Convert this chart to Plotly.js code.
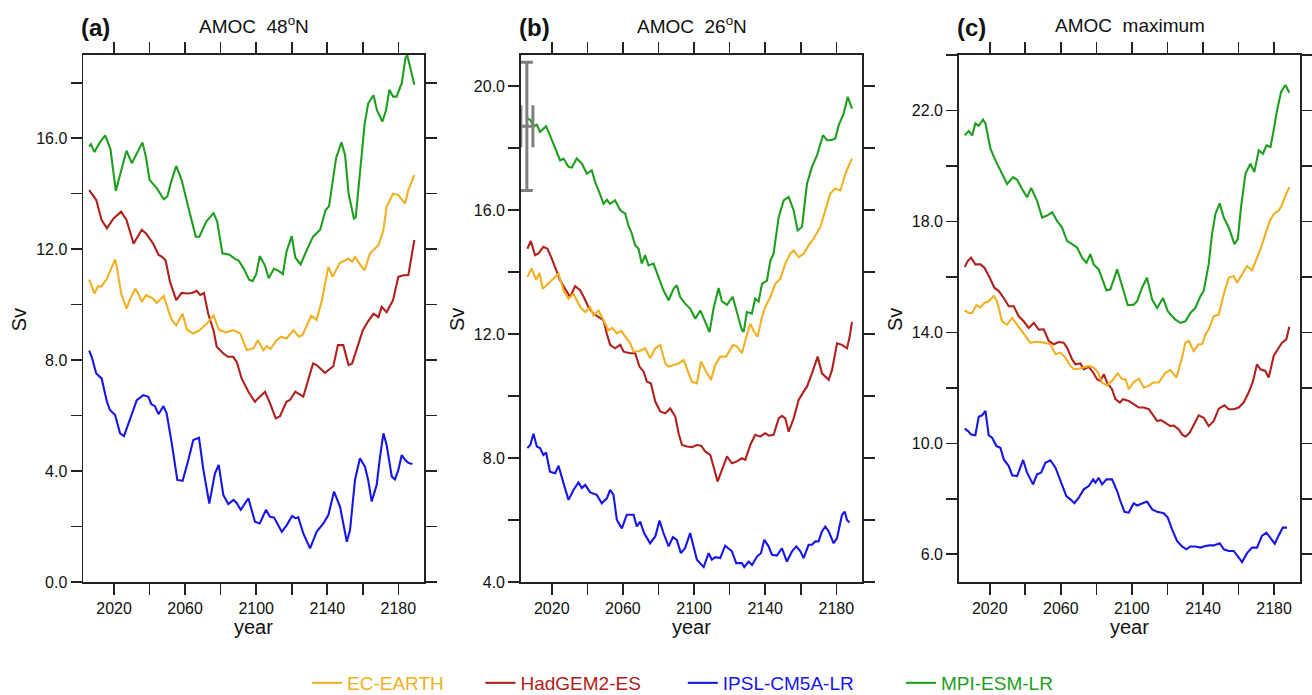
<!DOCTYPE html>
<html><head><meta charset="utf-8">
<script src="https://cdn.plot.ly/plotly-3.0.1.min.js"></script>
<style>html,body{margin:0;padding:0;background:#fff}#chart{width:1312px;height:695px}</style>
</head><body><div id="chart"></div>
<script>
// ---------------- DATA ----------------
const models = ['EC-EARTH','HadGEM2-ES','IPSL-CM5A-LR','MPI-ESM-LR'];
const panelTitles = ['AMOC\u00a0 48<sup>o</sup>N','AMOC\u00a0 26<sup>o</sup>N','AMOC\u00a0 maximum'];
const panelLetters = ['(a)','(b)','(c)'];
const xTickStart = 2020, xTickStep = 40, xMinorStep = 20;
const yTickStarts = [0, 4, 6];
const yTickStep = 4, yMinorStep = 2;

// observational estimate at 26N
const obsYear = [2006];
const obsSv = [18.7];
const obsSvErr = [2.07];
const obsYearErr = [3.4];

// Panel (a) AMOC 48N
const yrA_EC = [2006,2009,2011,2013,2016,2019,2020.6,2022,2024,2027,2029,2032,2034,2035.6,2038,2042,2044,2048,2051.5,2053,2055,2057,2058.6,2061,2064.6,2068,2072,2076,2079,2083,2087,2091,2094.7,2098.4,2101,2104,2106,2108,2111.5,2114,2117,2121,2124,2126,2128,2131,2134,2137,2140.6,2143,2147,2150,2152,2154,2155.6,2159.4,2161,2164,2168.8,2171.6,2173.4,2177,2180,2183.8,2185.6,2189];
const svA_EC = [10.90,10.40,10.66,10.66,10.94,11.4,11.63,11.2,10.4,9.86,10.2,10.58,10.35,10.1,10.34,10.22,10.06,10.31,9.61,9.4,9.25,9.5,9.67,9.1,8.96,9.07,9.3,9.61,9.1,9.0,9.08,8.96,8.36,8.42,8.72,8.36,8.5,8.4,8.72,8.84,8.78,9.08,8.84,8.9,9.2,9.6,9.45,10.16,11.36,11.0,11.5,11.6,11.66,11.55,11.72,11.36,11.24,11.84,12.14,12.69,13.53,14.0,13.95,13.65,14.13,14.67];
const yrA_Had = [2006,2007.5,2010,2013,2016,2019.6,2024,2027,2031,2035.6,2038,2042,2045,2047,2049,2051.5,2055,2058,2061,2064,2066.5,2068.5,2070.6,2073,2076,2077.8,2081.5,2084,2087,2089,2091.8,2095.6,2099.3,2101,2105,2107.8,2111,2113.4,2117,2119,2122,2126.5,2132,2134,2136,2138.7,2143.4,2146,2149,2152,2154,2157.5,2160,2163,2166,2168.8,2170.6,2173.4,2177,2180,2182.8,2185.6,2189];
const svA_Had = [14.13,14.0,13.77,13.05,12.75,13.1,13.35,13.05,12.2,12.7,12.57,12.2,11.8,11.72,11.6,10.82,10.16,10.42,10.4,10.42,10.5,10.35,10.42,9.67,9.07,8.48,8.24,8.12,8.12,7.94,7.34,6.86,6.5,6.62,6.86,6.44,5.9,5.98,6.5,6.56,6.86,6.68,7.88,7.82,7.7,7.54,7.78,8.54,8.54,7.82,7.88,8.6,9.08,9.4,9.67,9.55,9.92,9.73,10.16,11.0,11.06,11.06,12.33];
const yrA_IPSL = [2006,2007.4,2010,2013,2016,2017.7,2020.6,2023.4,2025.6,2029,2032.8,2036.5,2039.3,2041,2043,2045,2047.8,2049.6,2052.5,2055.6,2058.6,2061.8,2064.6,2067.8,2070.3,2073.6,2076.8,2078.9,2081.5,2084.3,2087.2,2089,2091.3,2095.6,2097.5,2099.3,2102,2105.5,2107.8,2110,2114.4,2117.2,2120.2,2122,2123.7,2126.5,2130.3,2134,2137.8,2140.6,2143.8,2147.2,2151,2152.8,2155.6,2158.4,2161.2,2163,2165,2167.8,2169.7,2171.6,2173.4,2176.3,2178.1,2180,2181.9,2183.8,2185.6,2187.9];
const svA_IPSL = [8.34,8.12,7.52,7.34,6.5,6.2,6.02,5.36,5.26,5.9,6.56,6.74,6.68,6.41,6.34,6.05,6.34,6.08,5.0,3.68,3.65,4.4,5.12,5.2,4.04,2.83,3.92,4.22,3.14,2.81,2.96,2.85,2.6,3.02,2.6,2.17,2.11,2.6,2.35,2.33,1.81,2.05,2.38,2.3,2.33,1.75,1.21,1.81,2.11,2.41,3.26,2.71,1.45,1.87,3.68,4.46,4.16,3.68,2.9,3.5,4.52,5.36,4.94,3.8,3.7,4.04,4.58,4.4,4.3,4.25];
const yrA_MPI = [2006,2007,2009,2012,2015,2018,2021,2024,2027,2030,2033,2036,2038,2040,2044,2048,2050,2052,2055,2058,2063,2066,2068,2072,2076,2078,2081,2085,2088,2090,2093,2096,2098,2100,2102,2105,2107,2110,2113,2115,2117,2120,2122,2125,2128,2132,2136,2139,2141,2143,2145,2148,2150,2152,2155,2156,2158,2161,2163,2166,2168,2171,2173,2175,2177,2179,2182,2184,2185,2187,2189];
const svA_MPI = [15.70,15.78,15.50,15.85,16.1,15.6,14.1,14.8,15.55,15.1,15.5,15.85,15.3,14.5,14.2,13.8,13.9,14.4,15.0,14.5,13.2,12.45,12.45,13.0,13.3,13.0,11.85,11.8,11.65,11.6,11.3,10.9,10.85,11.1,11.75,11.4,10.95,11.3,11.2,11.1,11.9,12.47,11.7,11.45,11.9,12.45,12.7,13.4,13.55,14.4,15.3,15.85,15.4,14.0,13.1,13.15,14.6,16.5,17.25,17.55,17.0,16.6,17.0,17.75,17.5,17.5,18.0,18.9,19.0,18.45,17.93];

// Panel (b) AMOC 26N
const yrB_EC = [2006.3,2008.7,2011.2,2013.1,2014.9,2018.1,2021.9,2023.8,2026.6,2029.4,2032.2,2036.0,2038.8,2041.6,2043.4,2046.3,2049.1,2051.9,2054.0,2056.6,2059.0,2061.3,2064.1,2066.0,2069.5,2072.5,2075.3,2078.2,2081.0,2083.8,2085.7,2088.5,2091.3,2094.1,2096.9,2098.8,2101.6,2103.9,2106.3,2109.5,2111.9,2114.7,2118.0,2121.9,2124.1,2126.9,2129.7,2131.6,2133.5,2135.7,2138.0,2140.0,2142.9,2145.7,2148.5,2151.3,2154.1,2156.0,2158.8,2161.6,2164.4,2167.3,2171.0,2173.8,2176.6,2179.4,2182.3,2185.1,2188.8];
const svB_EC = [13.84,14.11,13.75,13.97,13.46,13.62,13.84,13.95,13.41,13.14,13.3,12.87,12.71,12.87,12.6,12.76,12.44,12.12,12.2,12.02,12.1,11.91,11.7,11.43,11.45,11.54,11.22,11.54,11.65,11.05,10.95,11.0,11.05,11.16,10.73,10.46,10.41,11.11,10.84,10.52,11.0,11.27,11.27,11.65,11.6,11.38,11.97,12.33,12.1,11.91,12.5,12.87,13.19,13.62,13.78,14.27,14.59,14.7,14.48,14.59,14.86,15.08,15.45,15.99,16.53,16.69,16.63,17.17,17.66];
const yrB_Had = [2006.3,2008.2,2010.6,2012.5,2015.3,2017.6,2020.0,2022.8,2024.7,2027.5,2030.3,2033.1,2036.0,2037.9,2040.6,2043.4,2046.3,2049.1,2051.0,2052.8,2055.6,2058.5,2060.4,2064.1,2066.9,2069.3,2071.6,2073.5,2075.7,2078.2,2081.0,2083.8,2086.6,2089.4,2091.3,2093.2,2096.0,2098.8,2101.6,2104.0,2106.3,2109.1,2111.0,2113.2,2115.7,2118.5,2121.3,2124.1,2126.9,2128.8,2131.6,2134.4,2137.2,2140.0,2142.0,2144.7,2147.6,2149.4,2151.3,2153.2,2156.0,2158.8,2161.6,2163.5,2166.3,2169.5,2171.9,2175.7,2177.6,2180.4,2183.2,2186.0,2187.5,2188.8];
const svB_Had = [14.75,15.0,14.54,14.6,14.81,14.75,14.43,14.05,13.73,13.46,13.19,13.54,13.41,13.2,12.87,12.66,12.55,12.44,12.0,11.65,11.54,11.65,11.43,11.38,11.38,10.95,10.79,10.46,10.41,9.82,9.5,9.44,9.6,9.34,8.8,8.42,8.37,8.35,8.42,8.4,8.21,8.1,7.72,7.24,7.62,8.05,7.83,7.89,7.99,7.94,8.42,8.75,8.69,8.8,8.72,8.75,9.28,9.36,9.28,8.85,9.28,9.87,10.14,10.3,10.73,11.27,10.73,10.52,10.84,11.7,11.65,11.54,11.91,12.39];
const yrB_IPSL = [2006.3,2008.0,2009.7,2011.6,2013.4,2015.3,2016.8,2019.0,2021.9,2023.8,2026.6,2029.4,2032.2,2035.0,2036.9,2038.8,2041.6,2045.3,2048.1,2051.0,2052.8,2054.7,2056.6,2059.4,2062.2,2066.0,2067.8,2069.7,2071.9,2075.3,2078.2,2080.6,2082.8,2085.7,2088.1,2090.3,2092.6,2095.0,2097.8,2099.7,2101.6,2105.4,2108.2,2110.0,2112.0,2114.7,2117.5,2121.3,2123.7,2126.9,2128.2,2130.7,2132.6,2135.4,2137.6,2139.5,2141.9,2143.8,2146.6,2149.4,2152.2,2155.1,2157.5,2159.8,2161.6,2164.4,2166.3,2168.2,2170.0,2171.9,2173.8,2175.7,2178.5,2180.4,2183.2,2184.7,2186.0,2187.4];
const svB_IPSL = [8.32,8.43,8.78,8.37,8.32,8.1,8.18,7.56,7.51,7.75,7.19,6.65,6.97,7.21,7.03,7.13,6.89,6.81,6.54,6.7,6.97,6.81,6.0,5.73,6.17,6.17,5.79,5.95,5.58,5.25,5.47,5.98,5.58,5.15,5.45,5.36,4.93,5.1,5.58,5.15,4.72,4.48,4.93,4.72,4.8,4.77,5.17,4.99,4.61,4.61,4.48,4.66,4.55,4.82,4.93,5.36,5.15,4.88,4.85,5.09,4.66,4.99,5.15,4.99,4.77,5.2,5.2,5.31,5.31,5.63,5.79,5.63,5.25,5.42,6.17,6.27,6.0,5.92];
const yrB_MPI = [2006.3,2008.0,2009.7,2011.6,2013.4,2016.8,2019.0,2021.9,2024.7,2026.6,2029.4,2031.3,2034.0,2036.9,2039.7,2042.5,2044.4,2046.3,2049.1,2051.0,2052.8,2055.6,2058.5,2061.3,2063.1,2065.0,2066.9,2068.8,2070.6,2072.5,2074.4,2077.2,2080.0,2082.8,2085.7,2088.5,2090.3,2092.2,2095.0,2097.8,2100.7,2103.5,2106.3,2108.7,2111.0,2113.8,2115.7,2118.5,2121.7,2124.1,2126.9,2127.9,2129.7,2132.5,2134.4,2136.3,2138.2,2141.0,2142.9,2144.7,2147.6,2150.4,2153.2,2156.0,2158.2,2160.7,2163.5,2166.3,2169.1,2172.5,2174.8,2176.7,2179.4,2181.3,2184.1,2186.4,2188.8];
const svB_MPI = [18.95,18.9,18.7,18.75,18.52,18.7,18.41,17.98,17.6,17.66,17.39,17.37,17.66,17.5,17.17,17.28,16.9,16.63,16.2,16.33,16.2,16.31,15.99,15.88,15.5,15.24,14.86,14.75,14.27,14.54,14.21,14.27,13.84,13.41,13.09,13.46,13.57,13.19,12.98,12.82,12.49,12.76,12.39,12.06,12.84,13.48,13.05,12.94,13.2,12.71,12.12,12.07,12.71,12.66,13.14,13.05,13.62,13.72,14.37,14.59,15.77,16.31,16.42,15.99,15.34,15.45,16.85,17.39,17.76,18.41,18.25,18.25,18.3,18.73,19.11,19.65,19.27];

// Panel (c) AMOC maximum
const yrC_EC = [2005.9,2008.2,2010.1,2012.5,2014.8,2017.0,2019.4,2022.3,2024.1,2026.9,2029.8,2032.6,2035.4,2038.2,2040.0,2042.8,2046.6,2050.4,2054.1,2057.0,2059.8,2062.6,2065.4,2067.3,2070.1,2072.9,2075.7,2078.5,2081.0,2083.2,2086.0,2088.8,2092.0,2094.5,2096.4,2098.2,2101.0,2103.9,2106.7,2109.5,2111.9,2115.1,2118.9,2121.7,2125.1,2128.2,2130.1,2132.0,2134.8,2137.6,2139.5,2141.4,2143.2,2146.0,2148.9,2151.7,2154.5,2157.3,2159.2,2162.0,2164.8,2167.6,2170.4,2172.7,2175.1,2177.6,2179.8,2182.6,2184.5,2186.4,2188.6];
const svC_EC = [14.79,14.7,14.7,14.98,14.9,15.06,15.12,15.31,15.12,14.4,14.28,14.52,14.28,14.04,13.87,13.63,13.66,13.63,13.57,13.21,13.27,13.09,12.79,12.67,12.69,12.73,12.79,12.73,12.55,12.19,12.09,12.25,12.52,12.31,12.31,11.95,12.21,12.33,12.01,12.07,12.19,12.19,12.55,12.64,12.37,13.09,13.63,13.69,13.33,13.57,13.57,13.93,14.1,14.58,14.64,15.37,15.97,16.03,15.79,16.09,16.39,16.24,16.69,17.06,17.54,18.02,18.27,18.39,18.6,18.93,19.23];
const yrC_Had = [2005.9,2007.6,2009.5,2011.9,2014.8,2017.0,2020.0,2022.6,2025.1,2027.9,2030.7,2033.5,2036.3,2039.1,2041.9,2044.8,2047.6,2050.4,2053.2,2056.0,2058.8,2061.6,2063.5,2066.3,2068.2,2071.0,2072.9,2075.7,2078.2,2080.4,2082.3,2084.2,2086.0,2088.8,2090.7,2093.2,2095.0,2098.2,2101.0,2103.9,2106.7,2109.5,2112.3,2114.2,2116.4,2118.9,2121.7,2123.6,2126.4,2128.2,2130.1,2132.5,2134.8,2137.6,2140.4,2143.2,2146.0,2148.9,2152.1,2154.5,2157.3,2160.1,2162.9,2165.7,2168.2,2170.4,2172.3,2175.1,2177.0,2179.8,2182.1,2184.5,2186.9,2188.6];
const svC_Had = [16.36,16.57,16.69,16.45,16.45,16.33,15.97,15.61,15.49,15.24,14.94,14.94,14.58,14.4,14.16,14.34,14.1,14.11,13.69,13.57,13.65,13.63,13.45,13.03,12.85,12.88,12.67,12.76,12.55,12.31,12.25,12.49,12.19,11.95,11.59,11.47,11.59,11.53,11.41,11.29,11.29,11.23,10.98,10.8,10.84,10.74,10.62,10.64,10.5,10.32,10.24,10.38,10.68,11.01,10.92,10.62,10.8,11.25,11.37,11.23,11.23,11.29,11.47,11.83,12.25,12.85,12.67,12.61,12.37,13.15,13.39,13.63,13.75,14.2];
const yrC_IPSL = [2005.9,2007.8,2009.5,2011.9,2013.8,2015.7,2017.6,2019.4,2021.3,2023.8,2026.0,2027.9,2030.7,2032.6,2035.4,2038.8,2041.0,2044.4,2046.6,2048.9,2051.3,2054.1,2057.0,2059.8,2063.1,2065.4,2067.6,2070.1,2072.9,2075.7,2078.2,2079.5,2081.3,2083.2,2085.7,2088.8,2091.7,2093.5,2095.8,2098.2,2101.0,2102.9,2105.7,2108.5,2111.4,2114.2,2117.9,2120.2,2122.6,2125.4,2128.2,2130.7,2132.9,2135.7,2138.6,2141.4,2143.8,2146.0,2149.4,2151.7,2154.5,2157.3,2159.2,2162.0,2164.8,2167.6,2170.4,2173.2,2175.7,2177.9,2180.4,2182.6,2184.9,2187.3];
const svC_IPSL = [10.53,10.44,10.32,10.29,10.96,11.01,11.17,10.29,10.2,9.9,9.84,9.42,9.18,8.85,8.82,9.4,8.94,8.52,8.88,8.94,9.3,9.39,9.12,8.64,8.1,7.98,7.84,8.04,8.34,8.46,8.7,8.58,8.76,8.52,8.7,8.7,8.28,7.92,7.53,7.5,7.84,7.76,7.84,7.9,7.62,7.53,7.48,7.32,6.9,6.48,6.28,6.18,6.28,6.28,6.24,6.3,6.32,6.32,6.4,6.18,6.12,6.12,5.96,5.72,6.04,6.24,6.24,6.66,6.78,6.6,6.38,6.68,6.96,6.96];
const yrC_MPI = [2005.9,2008.2,2010.1,2011.9,2013.8,2016.2,2017.6,2020.4,2023.2,2026.9,2029.8,2033.1,2035.4,2038.2,2041.0,2043.3,2046.6,2049.5,2052.3,2055.1,2057.9,2060.7,2063.5,2066.3,2069.1,2072.0,2074.4,2076.6,2078.5,2081.3,2083.8,2085.7,2087.9,2091.7,2094.5,2097.7,2101.0,2102.9,2105.7,2108.5,2111.4,2114.2,2117.5,2120.2,2122.6,2124.5,2127.3,2130.1,2132.9,2135.7,2138.6,2140.4,2143.2,2145.1,2147.0,2149.4,2151.7,2154.5,2157.7,2159.6,2161.4,2163.9,2166.7,2168.9,2171.4,2173.8,2175.7,2178.0,2179.8,2181.7,2184.0,2186.4,2188.6];
const svC_MPI = [21.11,21.26,21.1,21.53,21.45,21.67,21.53,20.62,20.2,19.72,19.35,19.6,19.5,19.17,18.87,19.21,18.75,18.14,18.21,18.33,18.02,17.78,17.3,17.18,17.06,16.69,16.51,16.82,16.45,16.27,15.79,15.51,15.55,16.27,15.67,14.98,15.0,15.12,15.61,15.97,15.18,14.88,15.24,14.76,14.58,14.46,14.34,14.4,14.7,14.88,15.31,15.49,16.45,17.54,18.27,18.65,18.14,17.78,17.18,17.36,18.51,19.72,20.08,19.78,20.56,20.44,20.74,20.68,21.29,22.01,22.68,22.92,22.64];

// ---------------- STYLE / LAYOUT ----------------
const W = 1312, H = 695;
const F = 'Liberation Sans, Arial, Helvetica, sans-serif';
const colors = ['#F0B021','#B0201C','#1616E6','#1E9E1E'];
const legendPad = [6, 7, 8, 0];   // trailing spaces to spread legend entries
const seriesByPanel = [
  [[yrA_EC,svA_EC],[yrA_Had,svA_Had],[yrA_IPSL,svA_IPSL],[yrA_MPI,svA_MPI]],
  [[yrB_EC,svB_EC],[yrB_Had,svB_Had],[yrB_IPSL,svB_IPSL],[yrB_MPI,svB_MPI]],
  [[yrC_EC,svC_EC],[yrC_Had,svC_Had],[yrC_IPSL,svC_IPSL],[yrC_MPI,svC_MPI]]
];
const boxL = [83.3, 521, 959];
const boxR = [424.3, 862.3, 1300];
const boxT = 55, boxB = 582;
const yRanges = [[0,19],[4,21],[5,24]];
const xRange = [2002.7, 2194.6];
const px = v => v / W;
const py = v => 1 - v / H;

const tickStyle = {ticks:'outside', ticklen:11, tickwidth:1.6, tickcolor:'#222'};
const traces = [];
const layout = {
  width: W, height: H,
  margin: {l:0, r:0, t:0, b:0},
  paper_bgcolor: '#fff', plot_bgcolor: '#fff',
  font: {family: F, color: '#111'},
  showlegend: true,
  legend: {orientation:'h', x: px(307), xanchor:'left', y: 0, yanchor:'bottom',
           font:{family:F, size:19}, itemwidth:30, bgcolor:'rgba(0,0,0,0)'},
  annotations: []
};

for (let p = 0; p < 3; p++) {
  const sfx = p === 0 ? '' : String(p + 1);
  layout['xaxis' + sfx] = Object.assign({
    domain: [px(boxL[p]), px(boxR[p])], anchor: 'y' + sfx, range: xRange,
    tickmode: 'linear', tick0: xTickStart, dtick: xTickStep,
    minor: Object.assign({tickmode:'linear', tick0: xTickStart, dtick: xMinorStep}, tickStyle),
    showline: true, linewidth: 1.8, linecolor: '#222', mirror: 'allticks',
    showgrid: false, zeroline: false, fixedrange: true,
    tickfont: {family: F, size: 16, color: '#111'}
  }, tickStyle);
  layout['yaxis' + sfx] = Object.assign({
    domain: [py(boxB), py(boxT)], anchor: 'x' + sfx, range: yRanges[p],
    tickmode: 'linear', tick0: yTickStarts[p], dtick: yTickStep, tickformat: '.1f',
    minor: Object.assign({tickmode:'linear', tick0: yTickStarts[p], dtick: yMinorStep}, tickStyle),
    showline: true, linewidth: 1.8, linecolor: '#222', mirror: 'allticks',
    showgrid: false, zeroline: false, fixedrange: true,
    tickfont: {family: F, size: 16, color: '#111'}
  }, tickStyle);
  const ord = [2,1,0,3];
  for (const m of ord) {
    const [xs, ys] = seriesByPanel[p][m];
    traces.push({
      type: 'scatter', mode: 'lines', x: xs, y: ys,
      xaxis: 'x' + sfx, yaxis: 'y' + sfx,
      name: '<span style="color:' + colors[m] + '">' + models[m] + '</span>' + '\u00a0'.repeat(legendPad[m]),
      legendrank: m, showlegend: p === 0,
      line: {color: colors[m], width: 2.1}
    });
  }
  layout.annotations.push({xref:'paper', yref:'paper', x: px(boxL[p] - 4), y: py(27),
    xanchor:'left', yanchor:'middle', showarrow:false, text:'<b>' + panelLetters[p] + '</b>',
    font:{family:F, size:24, color:'#111'}});
  layout.annotations.push({xref:'paper', yref:'paper', x: px((boxL[p] + boxR[p]) / 2), y: py(25),
    xanchor:'center', yanchor:'middle', showarrow:false, text: panelTitles[p],
    font:{family:F, size:19, color:'#111'}});
  layout.annotations.push({xref:'paper', yref:'paper', x: px((boxL[p] + boxR[p]) / 2), y: py(627),
    xanchor:'center', yanchor:'middle', showarrow:false, text:'year',
    font:{family:F, size:20, color:'#111'}});
  layout.annotations.push({xref:'paper', yref:'paper', x: px(boxL[p] - 64), y: py(320),
    xanchor:'center', yanchor:'middle', showarrow:false, text:'Sv', textangle:-90,
    font:{family:F, size:20, color:'#111'}});
}

traces.push({
  type:'scatter', mode:'markers', x: obsYear, y: obsSv, xaxis:'x2', yaxis:'y2',
  showlegend:false, cliponaxis:false, hoverinfo:'skip',
  marker:{size:1, color:'#808080', opacity:0},
  error_y:{type:'data', array: obsSvErr, visible:true, color:'#7f7f7f', thickness:3, width:6},
  error_x:{type:'data', array: obsYearErr, visible:true, color:'#7f7f7f', thickness:3, width:21, copy_ystyle:false}
});

Plotly.newPlot('chart', traces, layout, {displayModeBar:false, staticPlot:true}).then(function (gd) {
  // nudge the legend row down a little (closer to the bottom edge, as in the original figure)
  var lg = gd.querySelector('g.legend');
  if (lg) {
    var m = /translate\(\s*([-\d.e]+)[ ,]+([-\d.e]+)\s*\)/.exec(lg.getAttribute('transform') || '');
    if (m) lg.setAttribute('transform', 'translate(' + m[1] + ',' + (parseFloat(m[2]) + 7) + ')');
  }
});
</script>
</body></html>
